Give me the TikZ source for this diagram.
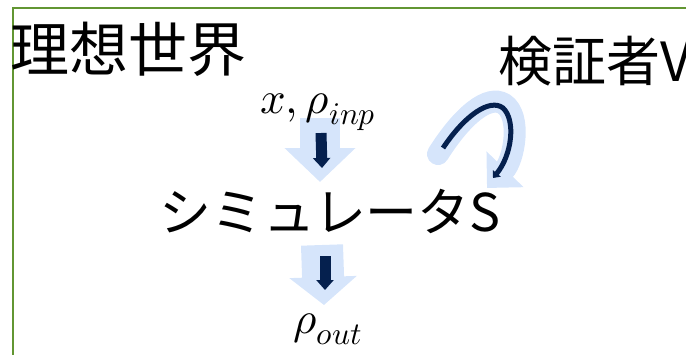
\documentclass[tikz,border=0pt]{standalone}
\usepackage{fontspec}
\usepackage{unicode-math}
\setmainfont{Noto Sans CJK JP}
\setmathfont{Latin Modern Math}
\usetikzlibrary{arrows.meta,positioning,calc,backgrounds}
\definecolor{framegreen}{RGB}{98,150,50}
\definecolor{paleblue}{RGB}{214,229,251}
\definecolor{darknavy}{RGB}{5,32,78}

\begin{document}
\begin{tikzpicture}[x=1pt,y=-1pt,
	jp/.style={inner sep=0pt,font=\fontsize{#1}{#1}\selectfont},
	mathlbl/.style={inner sep=0pt,font=\fontsize{45}{45}\selectfont},
	blockarrow/.style={paleblue,line width=#1},
	penarrow/.style={darknavy,line width=11pt,-{Triangle[width=17pt,length=10pt]}}]
	\useasboundingbox (0,0) rectangle (686,354);
	\draw[framegreen,line width=2pt] (13,8) rectangle (720,380);
	\node[jp=59,anchor=base west] (world)    at (10,71)  {理想世界};
	\node[jp=54,anchor=base west] (verifier) at (498,81) {検証者V};
	\node[mathlbl,anchor=base]    (inp)      at (318,113) {$x,\rho_{inp}$};
	\node[jp=52,anchor=base]      (sim)      at (330,231) {シミュレータS};
	\node[mathlbl,anchor=base]    (out)      at (328,333) {$\rho_{out}$};
	\begin{scope}[on background layer]
		\draw[blockarrow=40pt,-{Triangle[width=69pt,length=34pt]}]
			([xshift=2pt,yshift=-5pt]inp.base) -- ([xshift=-10pt,yshift=49pt]sim.base);
		\draw[penarrow] ([xshift=3pt,yshift=-20pt]inp.base) -- ([xshift=-8pt,yshift=63pt]sim.base);
		\draw[blockarrow=42pt,-{Triangle[width=66pt,length=28pt]}]
			([xshift=-8pt,yshift=-14pt]sim.base) -- ([xshift=-4pt,yshift=28pt]out.base);
		\draw[penarrow] ([xshift=-5pt,yshift=-25pt]sim.base) -- ([xshift=-3pt,yshift=43pt]out.base);
		% verifier acting on the simulator
		\draw[blockarrow=22pt,line cap=round,-{Triangle[width=50pt,length=26pt]}]
			(438,154) .. controls (462,116) and (488,94) .. (504,104)
			.. controls (522,116) and (514,160) .. (487,188);
		\draw[darknavy,line width=5pt,-{Triangle[width=10pt,length=6pt]}]
			(443,148) .. controls (465,115) and (490,98) .. (503,108)
			.. controls (516,120) and (512,155) .. (493,178);
	\end{scope}
\end{tikzpicture}
\end{document}
